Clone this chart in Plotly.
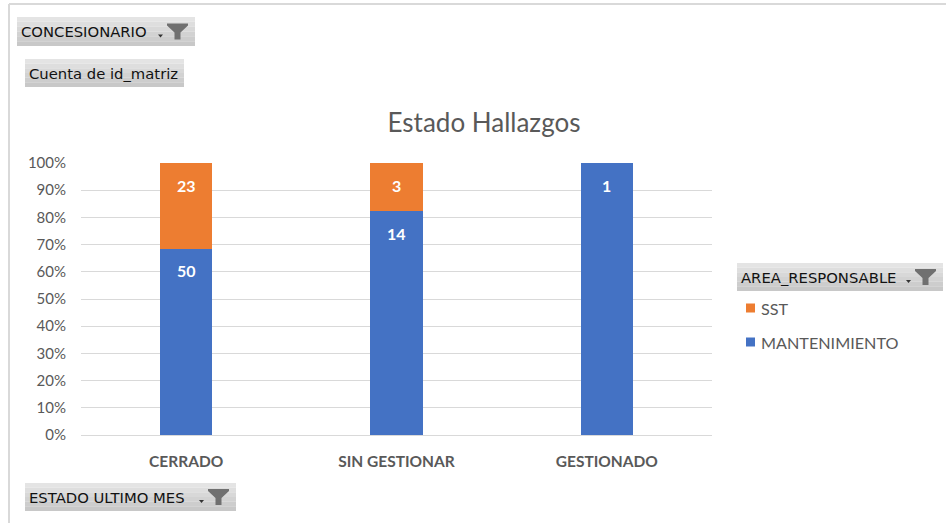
import plotly.graph_objects as go

categories = ["CERRADO", "SIN GESTIONAR", "GESTIONADO"]
mantenimiento = [50, 14, 1]
sst = [23, 3, 0]
y_ticks = [0, 10, 20, 30, 40, 50, 60, 70, 80, 90, 100]
y_tick_labels = [f"{v}%" for v in y_ticks]
series_names = ["MANTENIMIENTO", "SST"]
series_colors = ["#4472C4", "#ED7D31"]

W, H = 946, 523
L, R, T, B = 81, 712, 163, 435

def px(x):
    return (x - L) / (R - L)

def py(y):
    return (B - y) / (B - T)

fig = go.Figure()
fig.add_trace(go.Bar(x=categories, y=mantenimiento, name=series_names[0],
                     marker=dict(color=series_colors[0], line=dict(width=0))))
fig.add_trace(go.Bar(x=categories, y=sst, name=series_names[1],
                     marker=dict(color=series_colors[1], line=dict(width=0))))

shapes = []
annotations = []

# data labels (inside end of each stacked segment)
label_font = dict(family="Lato", size=16, color="white", weight="bold")
for c, m, s in zip(categories, mantenimiento, sst):
    tot = m + s
    if m:
        annotations.append(dict(x=c, y=m / tot * 100, xref="x", yref="y", text=str(m),
                                showarrow=False, yanchor="middle", yshift=-22, font=label_font))
    if s:
        annotations.append(dict(x=c, y=100, xref="x", yref="y", text=str(s),
                                showarrow=False, yanchor="middle", yshift=-22, font=label_font))

# frame lines
shapes.append(dict(type="line", xref="paper", yref="paper",
                   x0=px(9), x1=px(946), y0=py(4), y1=py(4),
                   line=dict(color="#d9d9d9", width=2)))
shapes.append(dict(type="line", xref="paper", yref="paper",
                   x0=px(9), x1=px(9), y0=py(4), y1=py(523),
                   line=dict(color="#d9d9d9", width=2)))

btn_font = "DejaVu Sans"
grad = ["#e4e4e4", "#dedede", "#d8d8d8", "#d2d2d2", "#cdcdcd", "#c8c8c8"]

def button(x0, y0, x1, y1, text, funnel=True):
    n = len(grad)
    h = (y1 - y0) / n
    for i, col in enumerate(grad):
        shapes.append(dict(type="rect", xref="paper", yref="paper",
                           x0=px(x0), x1=px(x1), y0=py(y0 + i * h), y1=py(y0 + (i + 1) * h),
                           fillcolor=col, line=dict(width=0), layer="above"))
    annotations.append(dict(xref="paper", yref="paper", x=px(x0 + 2), y=py((y0 + y1) / 2),
                            text=text, showarrow=False, xanchor="left", yanchor="middle",
                            font=dict(family=btn_font, size=14.8, color="#111111")))
    if funnel:
        fx = x1 - 28
        t = (y0 + y1) / 2 - 8
        pts = [(0, 0), (21, 0), (21, 2), (13.5, 9), (13.5, 16), (7.5, 16), (7.5, 9), (0, 2)]
        path = "M " + " L ".join(f"{px(fx + a)},{py(t + b)}" for a, b in pts) + " Z"
        shapes.append(dict(type="path", xref="paper", yref="paper", path=path,
                           fillcolor="#707070", line=dict(width=0), layer="above"))
        tx, ty = fx - 9, t + 11
        tri = [(tx, ty), (tx + 5, ty), (tx + 2.5, ty + 3)]
        path2 = "M " + " L ".join(f"{px(a)},{py(b)}" for a, b in tri) + " Z"
        shapes.append(dict(type="path", xref="paper", yref="paper", path=path2,
                           fillcolor="#333333", line=dict(width=0), layer="above"))

button(17, 17, 195, 46, "CONCESIONARIO")
button(25, 59, 184, 87, "Cuenta de id_matriz", funnel=False)
button(25, 483, 236, 511, "ESTADO ULTIMO MES")
button(737, 263, 943, 291, "AREA_RESPONSABLE")

# legend (SST first, as in the stacked order top to bottom)
legend_rows = [(series_names[1], series_colors[1], 308), (series_names[0], series_colors[0], 342)]
for name, col, yc in legend_rows:
    shapes.append(dict(type="rect", xref="paper", yref="paper",
                       x0=px(746), x1=px(755), y0=py(yc - 4.5), y1=py(yc + 4.5),
                       fillcolor=col, line=dict(width=0)))
    annotations.append(dict(xref="paper", yref="paper", x=px(759), y=py(yc), text=name,
                            showarrow=False, xanchor="left", yanchor="middle",
                            font=dict(family="Lato", size=16.2, color="#595959")))

fig.update_layout(
    width=W, height=H,
    margin=dict(l=L, r=W - R, t=T, b=H - B, pad=0),
    paper_bgcolor="white", plot_bgcolor="white",
    barmode="stack", barnorm="percent", bargap=0.75,
    font=dict(family="Lato", color="#595959", size=14),
    title=dict(text="Estado Hallazgos", x=484 / W, xref="container", xanchor="center",
               y=1 - 123 / H, yref="container", yanchor="middle",
               font=dict(size=26, color="#595959", family="Lato")),
    xaxis=dict(showgrid=False, showline=False, ticks="", ticklen=0, ticklabelstandoff=15,
               tickfont=dict(size=15.5, color="#595959", family="Lato", weight="bold")),
    yaxis=dict(range=[0, 100], tickmode="array", tickvals=y_ticks, ticktext=y_tick_labels,
               showgrid=True, gridcolor="#d9d9d9", gridwidth=1, zeroline=True,
               zerolinecolor="#d9d9d9", zerolinewidth=1, showline=False, ticks="",
               ticklabelstandoff=14,
               tickfont=dict(size=15, color="#595959", family="Lato")),
    showlegend=False,
    shapes=shapes, annotations=annotations,
)

fig.write_html("out.html", config={"displayModeBar": False},
               post_script="document.body.style.margin='0px';")
